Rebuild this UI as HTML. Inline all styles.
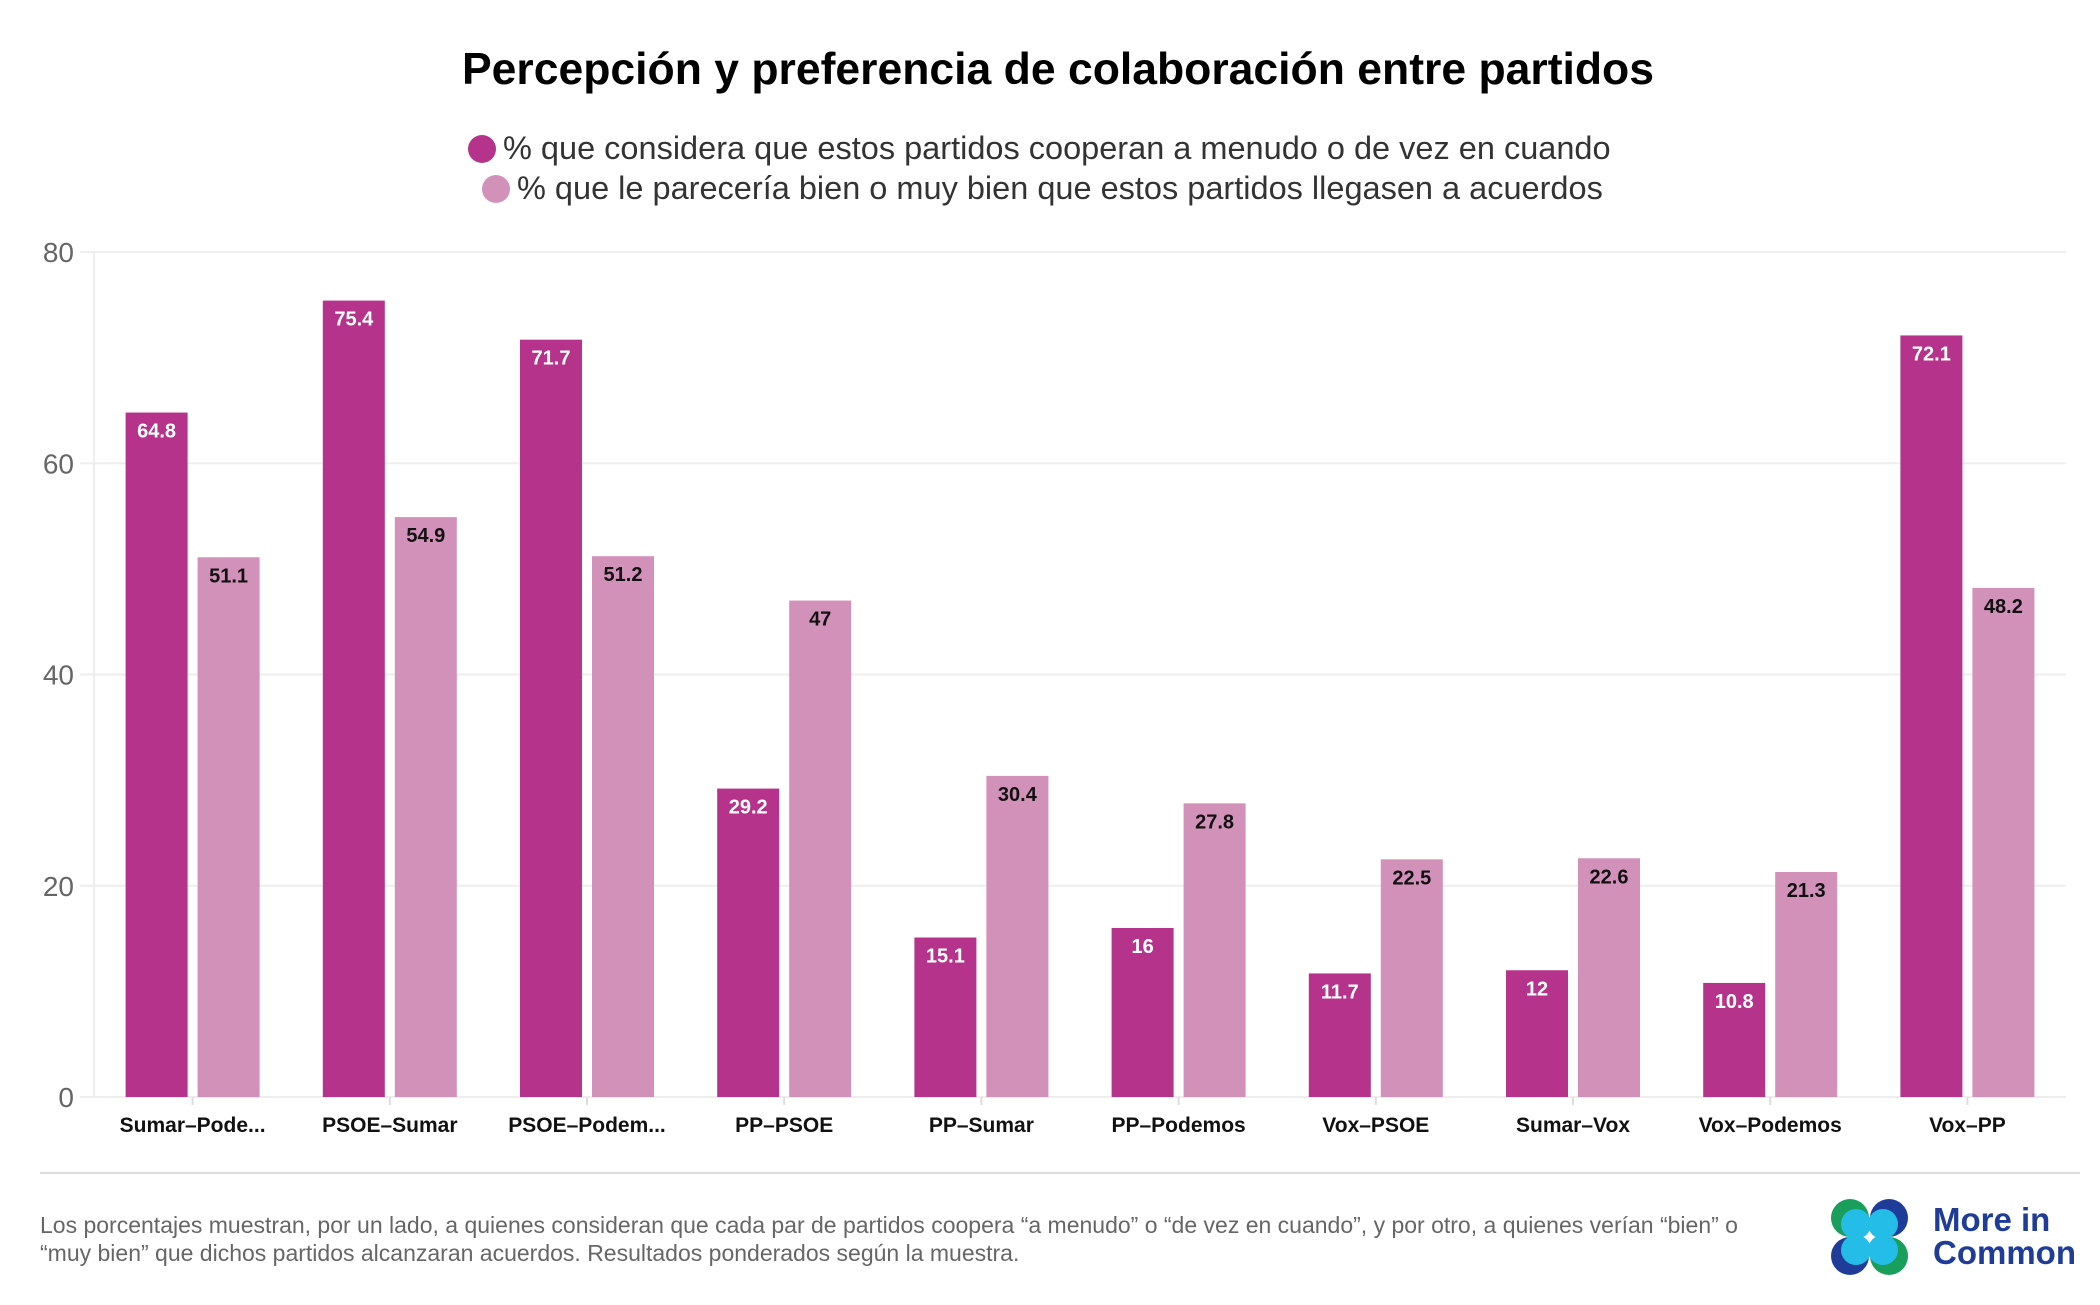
<!DOCTYPE html>
<html><head><meta charset="utf-8">
<style>
html,body{margin:0;padding:0;background:#fff;}
body{width:2100px;height:1300px;overflow:hidden;font-family:"Liberation Sans",sans-serif;}
svg text{font-family:"Liberation Sans",sans-serif;}
</style></head>
<body>
<svg id="chart" width="2100" height="1300" viewBox="0 0 2100 1300" xmlns="http://www.w3.org/2000/svg">
  <text x="1058" y="84" text-anchor="middle" font-size="44.5" font-weight="bold" fill="#000">Percepción y preferencia de colaboración entre partidos</text>
  <g>
    <g>
      <circle cx="482" cy="149" r="14" fill="#b5338a"/>
      <text x="503" y="159" font-size="32.5" fill="#333">% que considera que estos partidos cooperan a menudo o de vez en cuando</text>
    </g>
    <g>
      <circle cx="496" cy="189" r="14" fill="#d291b9"/>
      <text x="517" y="199" font-size="32.5" fill="#333">% que le parecería bien o muy bien que estos partidos llegasen a acuerdos</text>
    </g>
  </g>
  <g id="grid"></g>
  <g id="yaxis"></g>
  <g id="bars"></g>
  <g id="xaxis"></g>
  <line x1="40" y1="1173" x2="2080" y2="1173" stroke="#ddd" stroke-width="2"/>
  <g font-size="23" fill="#666">
    <text x="40" y="1233">Los porcentajes muestran, por un lado, a quienes consideran que cada par de partidos coopera “a menudo” o “de vez en cuando”, y por otro, a quienes verían “bien” o</text>
    <text x="40" y="1261">“muy bien” que dichos partidos alcanzaran acuerdos. Resultados ponderados según la muestra.</text>
  </g>
  <g>
    <circle cx="1850" cy="1218" r="19" fill="#1a9e5b"/>
    <circle cx="1889" cy="1218" r="19" fill="#1f3c99"/>
    <circle cx="1850" cy="1256" r="19" fill="#1f3c99"/>
    <circle cx="1889" cy="1256" r="19" fill="#1a9e5b"/>
    <circle cx="1856" cy="1224" r="15" fill="#24bde8"/>
    <circle cx="1883" cy="1224" r="15" fill="#24bde8"/>
    <circle cx="1856" cy="1250" r="15" fill="#24bde8"/>
    <circle cx="1883" cy="1250" r="15" fill="#24bde8"/>
    <text x="1933" y="1231" font-size="33" font-weight="bold" fill="#1f3c99">More in</text>
    <text x="1933" y="1264" font-size="33" font-weight="bold" fill="#1f3c99">Common</text>
  </g>
</svg>
<script>
const categories = ["Sumar–Pode...","PSOE–Sumar","PSOE–Podem...","PP–PSOE","PP–Sumar","PP–Podemos","Vox–PSOE","Sumar–Vox","Vox–Podemos","Vox–PP"];
const cooperan = [64.8,75.4,71.7,29.2,15.1,16,11.7,12,10.8,72.1];
const acuerdos = [51.1,54.9,51.2,47,30.4,27.8,22.5,22.6,21.3,48.2];
const yTicks = [0,20,40,60,80];

const NS="http://www.w3.org/2000/svg";
const plotL=94, plotR=2066, y0=1097, y80=252;
function y(v){return y0-(v/80)*(y0-y80);}
const band=(plotR-plotL)/categories.length;
function cx(i){return plotL+band*(i+0.5);}
function mk(tag,attrs,parent,txt){const e=document.createElementNS(NS,tag);for(const k in attrs)e.setAttribute(k,attrs[k]);if(txt!==undefined)e.textContent=txt;parent.appendChild(e);return e;}

const grid=document.getElementById('grid'), yaxis=document.getElementById('yaxis'), bars=document.getElementById('bars'), xaxis=document.getElementById('xaxis');
mk('line',{x1:plotL,y1:y80,x2:plotL,y2:y0,stroke:'#eee','stroke-width':2},grid);
yTicks.forEach(t=>{
  const l=mk('line',{x1:plotL-14,y1:y(t),x2:plotR,y2:y(t),stroke:'#eee','stroke-width':2},grid);
  
  
  const tx=mk('text',{x:74,y:y(t)+10,'text-anchor':'end','font-size':28,fill:'#666'},yaxis,String(t));
  
  
});
const bw=62, gap=5;
categories.forEach((c,i)=>{
  const c0=cx(i);
  const a=cooperan[i], b=acuerdos[i];
  const r1=mk('rect',{x:c0-gap-bw,y:y(a),width:bw,height:y0-y(a),fill:'#b5338a'},bars);
  
  
  const t1=mk('text',{x:c0-gap-bw/2,y:y(a)+25,'text-anchor':'middle','font-size':20,'font-weight':'bold',fill:'#fff'},bars,String(a));
  
  
  const r2=mk('rect',{x:c0+gap,y:y(b),width:bw,height:y0-y(b),fill:'#d291b9'},bars);
  
  
  const t2=mk('text',{x:c0+gap+bw/2,y:y(b)+25,'text-anchor':'middle','font-size':20,'font-weight':'bold',fill:'#111'},bars,String(b));
  
  
  const tk=mk('line',{x1:c0,y1:y0,x2:c0,y2:y0+8,stroke:'#ddd','stroke-width':2},xaxis);
  
  
  const xl=mk('text',{x:c0,y:1132,'text-anchor':'middle','font-size':21,'font-weight':'bold',fill:'#111'},xaxis,c);
  
  
});
</script>
</body></html>
